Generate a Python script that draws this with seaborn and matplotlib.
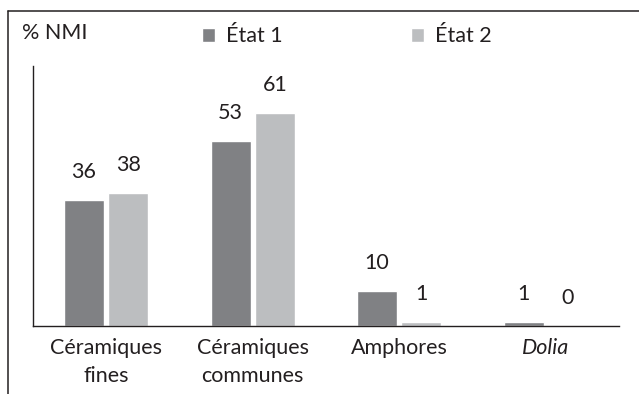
import matplotlib
matplotlib.use("Agg")
import matplotlib.pyplot as plt
from matplotlib.lines import Line2D
import pandas as pd
import seaborn as sns

# Data
categories = ["Céramiques\nfines", "Céramiques\ncommunes", "Amphores", "Dolia"]
etat1 = [36, 53, 10, 1]
etat2 = [38, 61, 1, 0]
series_names = ["État 1", "État 2"]
y_label = "% NMI"

dark_grey = "#808184"
light_grey = "#bcbec0"
ink = "#231f20"
fs = 15.5

sns.set_theme(style="white")
plt.rcParams["font.family"] = ["Lato", "DejaVu Sans"]

df = pd.DataFrame({
    "cat": categories * 2,
    "val": etat1 + etat2,
    "etat": [series_names[0]] * len(categories) + [series_names[1]] * len(categories),
})

fig = plt.figure(figsize=(6.39, 3.94), dpi=100)
ax = fig.add_axes([33 / 639, 1 - 325.7 / 394, (619 - 33) / 639, (325.7 - 66) / 394])

sns.barplot(data=df, x="cat", y="val", hue="etat", order=categories,
            hue_order=series_names, palette=[dark_grey, light_grey],
            width=0.607, gap=0.1, saturation=1, ax=ax, legend=True)

ax.set_xlim(-0.5, 3.5)
ax.set_ylim(0, 74.6)
ax.set_xlabel("")
ax.set_ylabel("")
ax.set_yticks([])

# value labels above bars
for cont in ax.containers:
    ax.bar_label(cont, padding=13, fontsize=fs, color=ink)

# spines: only left and bottom
for side in ["top", "right"]:
    ax.spines[side].set_visible(False)
for side in ["left", "bottom"]:
    ax.spines[side].set_color(ink)
    ax.spines[side].set_linewidth(1.0)

ax.tick_params(axis="x", length=0, pad=9, labelsize=fs, labelcolor=ink)
for lab in ax.get_xticklabels():
    lab.set_linespacing(1.5)
    if lab.get_text() == "Dolia":
        lab.set_fontstyle("italic")

# legend
handles, labels = ax.get_legend_handles_labels()
ax.legend(handles, labels, ncol=2, frameon=False, fontsize=fs,
          loc="center left", bbox_to_anchor=(202 / 639, 1 - 36.5 / 394),
          bbox_transform=fig.transFigure, borderpad=0, borderaxespad=0,
          handlelength=0.6, handleheight=0.6, handletextpad=0.5,
          columnspacing=6.0, labelcolor=ink)

# axis title at the top left
fig.text(22 / 639, 1 - 33 / 394, y_label, fontsize=fs, color=ink,
         ha="left", va="center")

# frame lines around the chart (top and left)
fig.add_artist(Line2D([8 / 639, 1.0], [1 - 11 / 394, 1 - 11 / 394],
                      transform=fig.transFigure, color=ink, linewidth=1.1))
fig.add_artist(Line2D([8 / 639, 8 / 639], [0.0, 1 - 11 / 394],
                      transform=fig.transFigure, color=ink, linewidth=1.1))

fig.savefig("out.png", dpi=100)
